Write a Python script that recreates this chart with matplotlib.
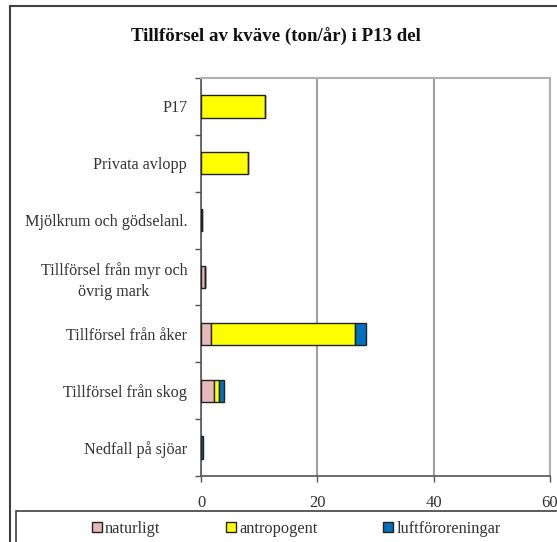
import numpy as np
import matplotlib
matplotlib.use("Agg")
import matplotlib.pyplot as plt
from matplotlib.patches import Rectangle, Patch
from matplotlib.lines import Line2D

# kvävetillförsel per källa, ton/år
kallor = ["P17", "Privata avlopp", "Mjölkrum och gödselanl.",
          "Tillförsel från myr och\növrig mark", "Tillförsel från åker",
          "Tillförsel från skog", "Nedfall på sjöar"]
naturligt = [0.0, 0.0, 0.0, 0.75, 1.7, 2.25, 0.0]
antropogent = [11.0, 8.0, 0.2, 0.0, 24.7, 0.9, 0.0]
luftfororeningar = [0.0, 0.0, 0.0, 0.0, 1.9, 0.8, 0.3]
serienamn = ["naturligt", "antropogent", "luftföroreningar"]
farger = ["#E6B9B8", "#FFFF00", "#0070C0"]
xticks = [0, 20, 40, 60]

plt.rcParams['font.family'] = ['Liberation Serif', 'DejaVu Serif']
textfarg = "#333333"

fig = plt.figure(figsize=(5.57, 5.42), dpi=100)
ax = fig.add_axes([0.3609, 0.1218, 0.6266, 0.7343])

y = np.arange(len(kallor))
vanster = np.zeros(len(kallor))
for varden, farg in zip([naturligt, antropogent, luftfororeningar], farger):
    varden = np.array(varden)
    ax.barh(y, varden, left=vanster, height=0.39, color=farg,
            edgecolor="#222222", linewidth=1.0, zorder=3)
    vanster += varden

ax.set_xlim(0, 60)
ax.set_ylim(len(kallor) - 0.5, -0.5)
ax.set_xticks(xticks)
ax.set_xticklabels([str(t) for t in xticks], fontsize=12, color=textfarg)
ax.set_yticks(y)
ax.set_yticklabels(kallor, fontsize=11.6, color=textfarg,
                   multialignment="center", linespacing=1.35)
ax.set_yticks(np.arange(-0.5, len(kallor)), minor=True)
ax.tick_params(axis="y", which="major", length=0, pad=10)
ax.tick_params(axis="y", which="minor", length=4, color="#555555", width=1)
ax.tick_params(axis="x", length=4, color="#555555", width=1, pad=10)

ax.grid(axis="x", color="#A0A0A0", linewidth=1.5, zorder=0)
for s in ["left", "bottom"]:
    ax.spines[s].set_color("#555555")
    ax.spines[s].set_linewidth(1.2)
ax.spines["top"].set_color("#B0B0B0")
ax.spines["top"].set_linewidth(1.5)
ax.spines["right"].set_color("#B0B0B0")
ax.spines["right"].set_linewidth(1.5)

fig.text(0.495, 0.932, "Tillförsel av kväve (ton/år) i P13 del",
         ha="center", va="center", fontsize=13.6, fontweight="bold",
         color="#111111")

# yttre ram
fig.add_artist(Line2D([10 / 557, 1.0], [1 - 6 / 542] * 2,
                      transform=fig.transFigure, color="#404040", lw=1.5))
fig.add_artist(Line2D([10 / 557] * 2, [0, 1 - 6 / 542],
                      transform=fig.transFigure, color="#404040", lw=1.5))

# legendruta
fig.add_artist(Rectangle((16 / 557, -0.05), 1.0, 0.05 + 1 - 511 / 542,
                         transform=fig.transFigure, fill=False,
                         edgecolor="#404040", lw=1.2))
handtag = [Patch(facecolor=f, edgecolor="#222222", linewidth=1.0)
           for f in farger]
fig.legend(handtag, serienamn, loc="center", ncol=3,
           bbox_to_anchor=(0.532, 1 - 529 / 542), frameon=False,
           fontsize=11.8, handlelength=0.6, handleheight=0.6,
           handletextpad=0.2, columnspacing=4.0, labelcolor=textfarg)

fig.savefig("out.png", dpi=100)
